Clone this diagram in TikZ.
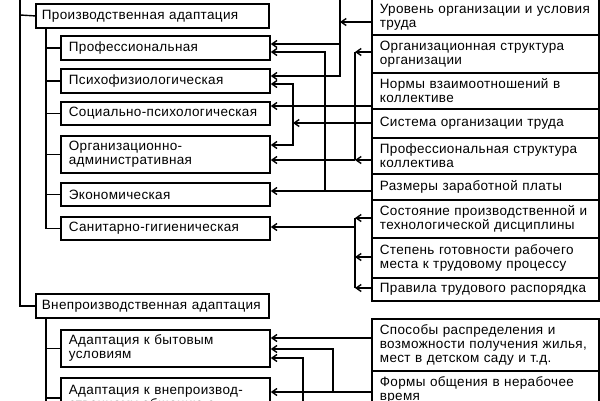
\documentclass[tikz,border=0pt]{standalone}
\usepackage{fontspec}
\setmainfont[LetterSpace=2.5]{Liberation Sans}
\usetikzlibrary{arrows.meta}
\newcommand\boxfont{\fontsize{13.5}{14}\selectfont}
\tikzset{
  box/.style={draw, line width=1.8pt, anchor=north west, inner xsep=8pt, inner ysep=0pt, align=left, font=\boxfont},
  mainbox/.style={box, inner xsep=6pt, text width=221pt, minimum height=24pt},
  subbox/.style={box, text width=193pt},
  factbox/.style={box, text width=211pt},
  link/.style={line width=1.4pt},
  arr/.style={link, -{Straight Barb[length=5pt,width=7pt]}}
}
\begin{document}
\begin{tikzpicture}[x=1pt,y=-1pt]
\useasboundingbox (0,0) rectangle (600,400);
\clip (0,0) rectangle (600,400);
% left column
\node[mainbox] (prod) at (35,3) {Производственная~адаптация};
\node[subbox, minimum height=24pt] (prof) at (60,35) {Профессиональная};
\node[subbox, minimum height=24pt] (psy) at (60,68) {Психофизиологическая};
\node[subbox, minimum height=23pt] (soc) at (60,101) {Социально-психологическая};
\node[subbox, minimum height=37pt] (oa) at (60,135) {Организационно-\\административная};
\node[subbox, minimum height=23pt] (eco) at (60,182) {Экономическая};
\node[subbox, minimum height=23pt] (san) at (60,216) {Санитарно-гигиеническая};
\node[mainbox] (nonprod) at (35,293) {Внепроизводственная~адаптация};
\node[subbox, minimum height=37pt] (byt) at (60,329) {Адаптация к бытовым\\условиям};
\node[subbox, minimum height=40pt] (vne) at (60,377) {Адаптация к внепроизвод-\\ственному общению с};
% right column
\node[factbox, minimum height=36pt] (lvl) at (371,-2) {Уровень организации и условия\\труда};
\node[factbox, minimum height=38pt] (ostr) at (371,34) {Организационная структура\\организации};
\node[factbox, minimum height=36pt] (norms) at (371,72) {Нормы взаимоотношений в\\коллективе};
\node[factbox, minimum height=29pt] (sys) at (371,108) {Система организации труда};
\node[factbox, minimum height=36pt] (pstr) at (371,137) {Профессиональная структура\\коллектива};
\node[factbox, minimum height=26pt] (wage) at (371,173) {Размеры заработной платы};
\node[factbox, minimum height=38pt] (disc) at (371,199) {Состояние производственной и\\технологической дисциплины};
\node[factbox, minimum height=40pt] (ready) at (371,237) {Степень готовности рабочего\\места к трудовому процессу};
\node[factbox, minimum height=23pt] (rules) at (371,277) {Правила трудового распорядка};
\node[factbox, minimum height=52pt] (house) at (371,318) {Способы распределения и\\возможности получения жилья,\\мест в детском саду и т.д.};
\node[factbox, minimum height=38pt] (comm) at (371,370) {Формы общения в нерабочее\\время};
% tree on the left
\draw[link] (20,-5) |- (nonprod.west);
\draw[link] (20,15) -- (prod.west);
\draw[link] (46,27) |- (san.west);
\draw[link] (46,317) -- (46,410);
\foreach \n in {prof,psy,soc,oa,eco,byt,vne}
  \draw[link] (\n.west) -- ++(-14,0);
% factors to adaptation kinds
\draw[arr] (lvl.west |- 0,22) -- (340,22);
\draw[arr] (340,-5) |- (psy.east |- 0,76);
\draw[arr] (340,44) -- (prof.east |- 0,44);
\draw[arr] (ostr.west |- 0,52) -- (355,52);
\draw[link] (355,52) -- (355,160);
\draw[arr] (pstr.west |- 0,160) -- (355,160);
\draw[arr] (355,160) -- (oa.east |- 0,160);
\draw[arr] (norms.west |- 0,106) -- (soc.east |- 0,106);
\draw[arr] (sys.west |- 0,123) -- (293,123);
\draw[arr] (293,123) |- (psy.east |- 0,84);
\draw[arr] (293,123) |- (oa.east |- 0,145);
\draw[arr] (wage.west |- 0,191) -- (eco.east |- 0,191);
\draw[arr] (325,191) |- (prof.east |- 0,52);
\draw[arr] (disc.west |- 0,218) -- (355,218);
\draw[arr] (ready.west |- 0,257) -- (355,257);
\draw[arr] (rules.west |- 0,288) -- (355,288);
\draw[link] (355,218) -- (355,288);
\draw[arr] (355,227) -- (san.east |- 0,227);
\draw[arr] (house.west |- 0,338) -- (byt.east |- 0,338);
\draw[arr] (comm.west |- 0,392) -- (vne.east |- 0,392);
\draw[arr] (333,392) |- (byt.east |- 0,349);
\draw[arr] (303,410) |- (byt.east |- 0,358);
\end{tikzpicture}
\end{document}
